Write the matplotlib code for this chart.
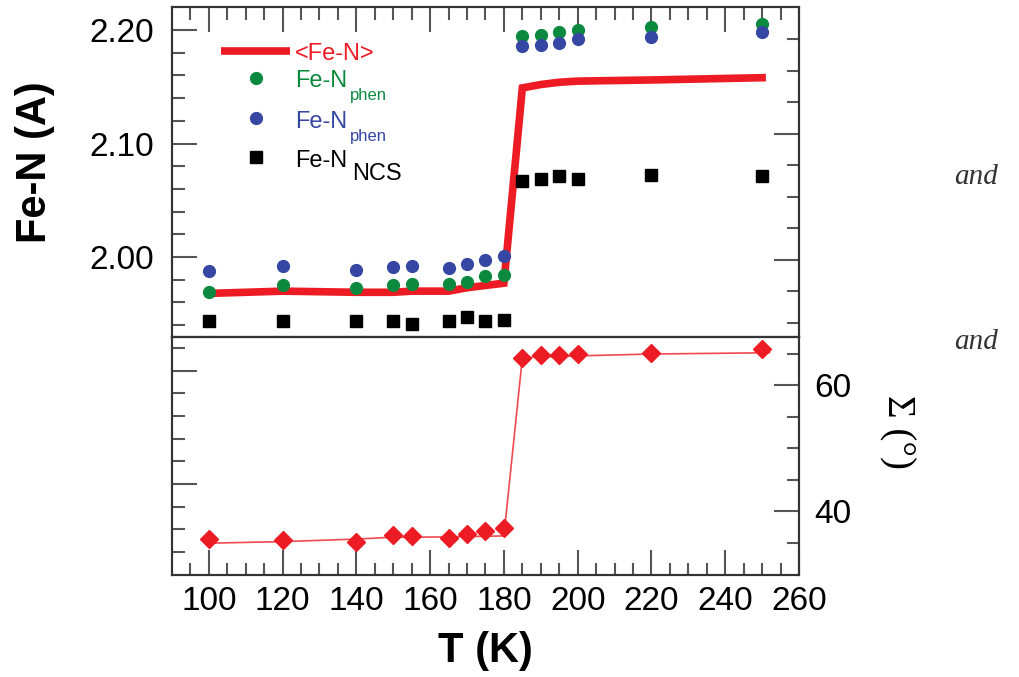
import numpy as np
import matplotlib.pyplot as plt

plt.rcParams['font.family'] = ['Liberation Sans', 'DejaVu Sans']

# temperatures (K)
T = [100, 120, 140, 150, 155, 165, 170, 175, 180, 185, 190, 195, 200, 220, 250]
# bond lengths (A)
fen_mean = [1.968, 1.970, 1.969, 1.969, 1.970, 1.970, 1.973, 1.975, 1.977,
            2.149, 2.152, 2.154, 2.155, 2.156, 2.158]
fen_phen1 = [1.969, 1.975, 1.973, 1.975, 1.976, 1.976, 1.978, 1.983, 1.984,
             2.195, 2.196, 2.198, 2.200, 2.203, 2.205]
fen_phen2 = [1.988, 1.992, 1.989, 1.991, 1.992, 1.990, 1.994, 1.997, 2.001,
             2.186, 2.187, 2.189, 2.192, 2.194, 2.198]
fen_ncs = [1.944, 1.944, 1.944, 1.944, 1.941, 1.944, 1.947, 1.944, 1.945,
           2.067, 2.069, 2.071, 2.069, 2.072, 2.071]
# distortion parameter Sigma (deg)
sigma = [35.6, 35.4, 35.15, 36.3, 36.1, 35.7, 36.4, 36.9, 37.4,
         64.4, 64.8, 64.8, 65.0, 65.15, 65.8]
T_fit = [100, 120, 140, 150, 155, 165, 170, 175, 180, 185, 190, 195, 200, 220, 252]
sigma_fit = [34.95, 35.2, 35.6, 35.9, 35.9, 35.95, 36.0, 36.05, 36.1,
             64.4, 64.55, 64.6, 64.7, 65.0, 65.2]

red = '#ED1C24'
green = '#0B8A3F'
blue = '#3546A3'
tickc = '#555555'

fig = plt.figure(figsize=(10.2, 6.77), dpi=100)
ax1 = fig.add_axes([0.1686, 0.5022, 0.6147, 0.4875])
ax2 = fig.add_axes([0.1686, 0.1507, 0.6147, 0.3515])
ax1r = ax1.twinx()
ax2l = ax2.twinx()

for a in (ax1, ax2, ax1r, ax2l):
    a.set_xlim(90, 260)
    for s in a.spines.values():
        s.set_color('#333333')
        s.set_linewidth(1.5)
    a.tick_params(which='both', direction='in', color=tickc, width=1.5,
                  labelsize=24)
    a.tick_params(which='major', length=18)
    a.tick_params(which='minor', length=9)

# top panel
ax1.plot(T, fen_mean, color=red, lw=5.5, solid_joinstyle='miter', zorder=2)
ax1.plot(T, fen_phen1, 'o', color=green, ms=8.5, zorder=3)
ax1.plot(T, fen_phen2, 'o', color=blue, ms=8.5, zorder=3)
ax1.plot(T, fen_ncs, 's', color='black', ms=8, zorder=3)
ax1.set_ylim(1.9296, 2.2203)
ax1.set_yticks([2.00, 2.10, 2.20])
ax1.set_yticklabels(['2.00', '2.10', '2.20'])
ax1.set_yticks([v for v in np.arange(1.94, 2.19, 0.02)
                if round(v, 2) not in (2.00, 2.10)], minor=True)
ax1.set_xticks(np.arange(100, 261, 20))
ax1.set_xticks(np.arange(95, 260, 5), minor=True)
ax1.tick_params(axis='x', which='both', bottom=False, top=True,
                labelbottom=False)
ax1.tick_params(axis='y', which='both', right=False, pad=13)
ax1.set_ylabel('Fe-N (A)', fontsize=30, fontweight='bold')
ax1.yaxis.set_label_coords(-0.187, 0.53)

ax1r.set_ylim(67.7, 120.1)
ax1r.set_yticks([80, 100])
ax1r.set_yticks([70, 75, 85, 90, 95, 105, 110, 115], minor=True)
ax1r.tick_params(axis='y', which='both', labelright=False)

# legend drawn by hand
tr = ax1.transAxes
ax1.plot([0.078, 0.188], [0.868, 0.868], color=red, lw=5.5, transform=tr,
         solid_capstyle='butt')
ax1.text(0.196, 0.839, '<Fe-N>', color=red, fontsize=17, transform=tr)
ax1.plot([0.134], [0.785], 'o', color=green, ms=8.5, transform=tr)
ax1.text(0.196, 0.758, 'Fe-N', color=green, fontsize=17, transform=tr)
ax1.text(0.284, 0.718, 'phen', color=green, fontsize=12, transform=tr)
ax1.plot([0.134], [0.664], 'o', color=blue, ms=8.5, transform=tr)
ax1.text(0.196, 0.633, 'Fe-N', color=blue, fontsize=17, transform=tr)
ax1.text(0.284, 0.595, 'phen', color=blue, fontsize=12, transform=tr)
ax1.plot([0.134], [0.545], 's', color='black', ms=8, transform=tr)
ax1.text(0.196, 0.515, 'Fe-N', color='black', fontsize=17, transform=tr)
ax1.text(0.2866, 0.476, 'NCS', color='black', fontsize=17, transform=tr)

# bottom panel
ax2.plot(T_fit, sigma_fit, color='#F04A50', lw=1.2, zorder=2)
ax2.plot(T, sigma, 'D', color=red, ms=9.5, zorder=3)
ax2.set_ylim(29.9, 67.7)
ax2.yaxis.tick_right()
ax2.set_yticks([40, 60])
ax2.set_yticks([35, 45, 50, 55, 65], minor=True)
ax2.tick_params(axis='y', which='both', left=False, right=True, pad=11)
ax2.set_xticks(np.arange(100, 261, 20))
ax2.set_xticks(np.arange(95, 260, 5), minor=True)
ax2.tick_params(axis='x', which='both', top=False, pad=8)
ax2.set_xlabel('T (K)', fontsize=30, fontweight='bold', labelpad=10)

ax2l.set_ylim(1.7199, 1.9296)
ax2l.yaxis.tick_left()
ax2l.set_yticks([1.80, 1.90])
ax2l.set_yticks([1.74, 1.76, 1.78, 1.82, 1.84, 1.86, 1.88, 1.92], minor=True)
ax2l.tick_params(axis='y', which='both', labelleft=False, labelright=False,
                 right=False, left=True)

fig.text(0.879, 0.362, 'Σ (°)', rotation=-90, fontsize=28,
         family=['Liberation Serif', 'DejaVu Serif'], ha='center', va='center')

fig.text(0.978, 0.738, 'and', fontsize=21, style='italic', color='#333333',
         family=['Liberation Serif', 'DejaVu Serif'], ha='right', va='center')
fig.text(0.978, 0.495, 'and', fontsize=21, style='italic', color='#333333',
         family=['Liberation Serif', 'DejaVu Serif'], ha='right', va='center')

fig.savefig('out.png', dpi=100)
